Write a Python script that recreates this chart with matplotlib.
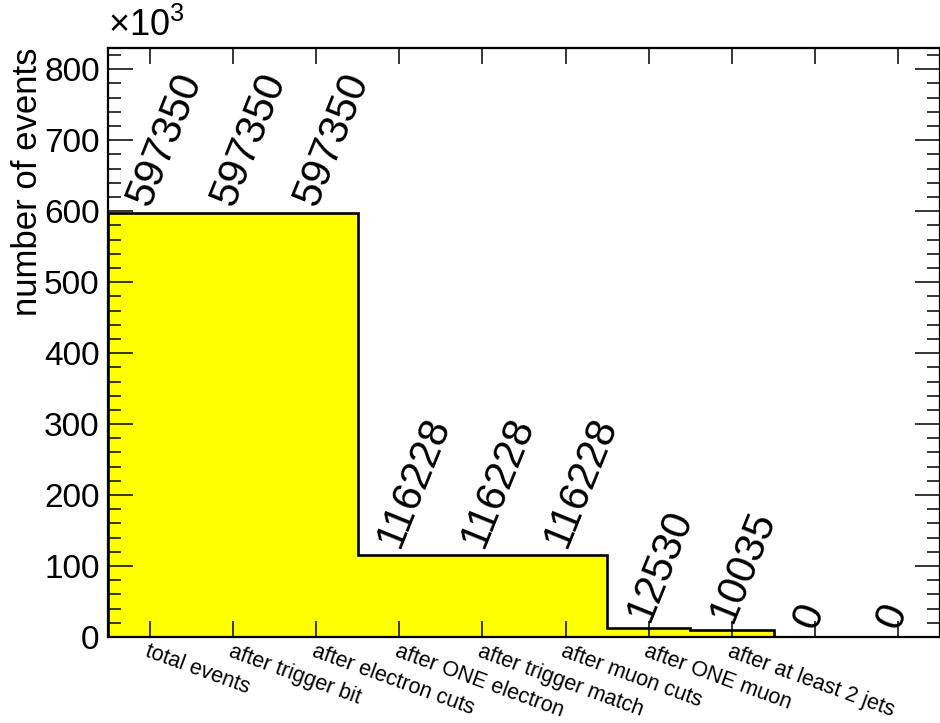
import matplotlib
matplotlib.use("Agg")
import matplotlib.pyplot as plt
import numpy as np
from matplotlib.ticker import MultipleLocator

plt.rcParams['font.family'] = ['Liberation Sans', 'DejaVu Sans']
plt.rcParams['mathtext.fontset'] = 'custom'
plt.rcParams['mathtext.rm'] = 'Liberation Sans'

# cut flow
cuts = ['total events', 'after trigger bit', 'after electron cuts', 'after ONE electron',
        'after trigger match', 'after muon cuts', 'after ONE muon', 'after at least 2 jets', '', '']
events = [597350, 597350, 597350, 116228, 116228, 116228, 12530, 10035, 0, 0]

vals = np.array(events) / 1000.0  # shown in units of 10^3
edges = np.arange(len(vals) + 1) - 0.5
centers = np.arange(len(vals))

fig = plt.figure(figsize=(9.4, 7.23), dpi=100)
ax = fig.add_axes([108 / 940, 86 / 723, 832 / 940, 589 / 723])

ax.stairs(vals, edges, fill=True, color='#ffff00', baseline=0)
ax.stairs(vals, edges, color='black', lw=1.9, baseline=0)

# numbers on top of bins
for x, v, n in zip(centers, vals, events):
    ax.annotate(str(n), (x, v), xytext=(0, 4), textcoords='offset points',
                rotation=68, rotation_mode='anchor', ha='left', va='baseline',
                fontsize=30)

ax.set_xlim(edges[0], edges[-1])
ax.set_ylim(0, 830)
ax.set_xticks(centers)
ax.set_xticklabels(cuts, rotation=-20, ha='left', va='top', rotation_mode='anchor', fontsize=15.5)
ax.yaxis.set_major_locator(MultipleLocator(100))
ax.yaxis.set_minor_locator(MultipleLocator(20))
ax.tick_params(axis='y', which='major', direction='in', left=True, right=True,
               length=18, width=1.1, labelsize=24, pad=6)
ax.tick_params(axis='y', which='minor', direction='in', left=True, right=True,
               length=9.5, width=1.1)
ax.tick_params(axis='x', which='major', direction='in', top=True, bottom=True,
               length=11.5, width=1.1, pad=3)
ax.tick_params(axis='x', which='minor', bottom=False, top=False)
for s in ax.spines.values():
    s.set_linewidth(1.6)

# y title aligned to the top of the axis, as ROOT does
fig.text(37 / 940, 1 - 47 / 723, 'number of events', fontsize=25, rotation=90,
         rotation_mode='anchor', ha='right', va='baseline')
ax.text(0, 1.006, '×10$^{3}$', transform=ax.transAxes, fontsize=26, ha='left', va='bottom')

fig.savefig('out.png', dpi=100)
